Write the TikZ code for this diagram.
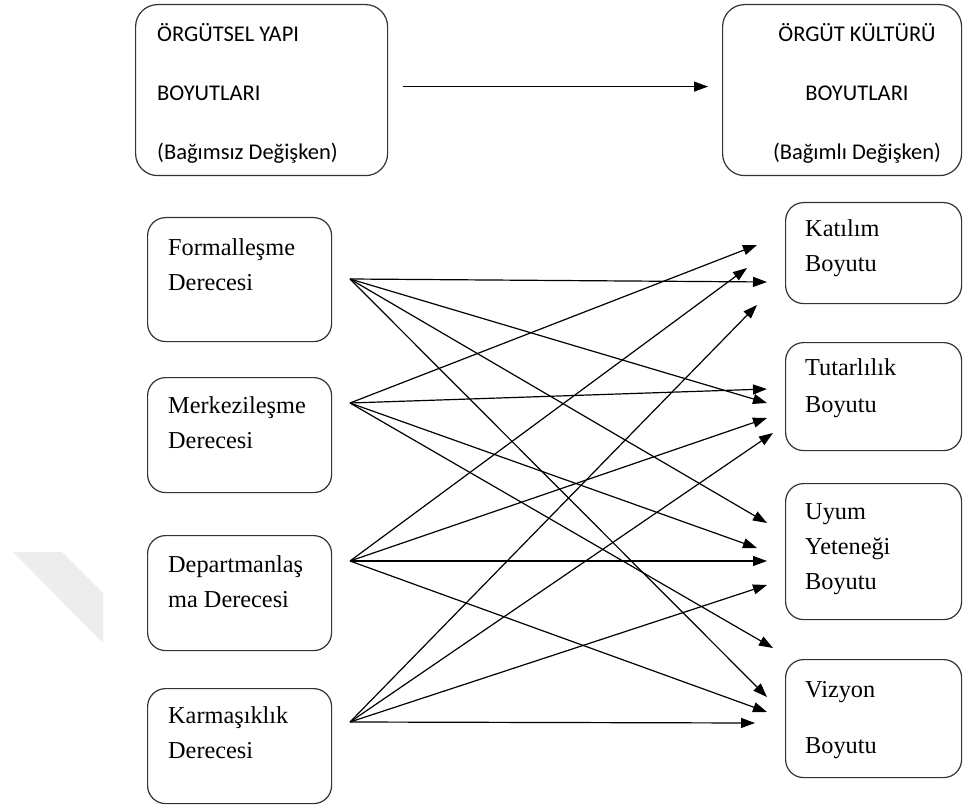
\documentclass[tikz,border=0pt]{standalone}
\usepackage{fontspec}
\setmainfont{Liberation Serif}
\newfontfamily\calibri{Carlito}
\usetikzlibrary{positioning}
\usetikzlibrary{arrows.meta}

\begin{document}
\begin{tikzpicture}[x=1pt,y=-1pt,
		kutu/.style={draw=black!80, line width=1.2pt, rounded corners=18pt, anchor=north west},
		yazi/.style={anchor=base west, align=left, inner sep=0pt, font=\fontsize{24.3}{35}\selectfont},
		baslik/.style={inner sep=0pt, font=\calibri\fontsize{22.5}{59}\selectfont},
		ok/.style={-{Triangle[length=14pt,width=10pt]}, line width=1.2pt}]
		\useasboundingbox (0,0) rectangle (963,810);
		% Watermark
		\fill[black!7] (13,552) -- (62,552) -- (103,593) -- (103,643) -- cycle;
		% Top boxes
		\node[kutu, rounded corners=22pt, minimum width=252pt, minimum height=171pt] (yapi) at (135,4) {};
		\node[kutu, rounded corners=22pt, minimum width=239pt, minimum height=171pt] (kultur) at (722,4) {};
		\node[baslik, anchor=base west, align=left] (yapiT) at (157,160) {ÖRGÜTSEL YAPI\\BOYUTLARI\\(Bağımsız Değişken)};
		\node[baslik, anchor=base, align=center] (kulturT) at (857,160) {ÖRGÜT KÜLTÜRÜ\\BOYUTLARI\\(Bağımlı Değişken)};
		\draw[ok] ([xshift=15pt,yshift=3.5pt]yapi.east) -- ([xshift=-14pt,yshift=3.5pt]kultur.west);
		% Independent variables
		\node[kutu, minimum width=184pt, minimum height=124pt] (form) at (147,217) {};
		\node[kutu, minimum width=184pt, minimum height=115pt] (merk) at (147,377) {};
		\node[kutu, minimum width=184pt, minimum height=115pt] (dept) at (147,535) {};
		\node[kutu, minimum width=184pt, minimum height=115pt] (karm) at (147,688) {};
		\node[yazi] (formT) at (168,290) {Formalleşme\\Derecesi};
		\node[yazi] (merkT) at (168,448) {Merkezileşme\\Derecesi};
		\node[yazi] (deptT) at (168,607) {Departmanlaş\\ma Derecesi};
		\node[yazi] (karmT) at (168,758) {Karmaşıklık\\Derecesi};
		% Dependent variables
		\node[kutu, minimum width=176pt, minimum height=101pt] (kat) at (785,202) {};
		\node[kutu, minimum width=176pt, minimum height=108pt] (tut) at (785,342) {};
		\node[kutu, minimum width=176pt, minimum height=136pt] (uyum) at (785,483) {};
		\node[kutu, minimum width=176pt, minimum height=118pt] (viz) at (785,659) {};
		\node[yazi] (katT) at (805,272) {Katılım\\Boyutu};
		\node[yazi] (tutT) at (805,412) {Tutarlılık\\[2pt]Boyutu};
		\node[yazi] (uyumT) at (805,589) {Uyum\\Yeteneği\\Boyutu};
		\node[yazi] (vizT) at (805,753) {Vizyon\\[21pt]Boyutu};
		% Arrow ends
		\coordinate (f) at (350,279);
		\coordinate (m) at (350,403);
		\coordinate (d) at (350,561);
		\coordinate (k) at (350,722);
		\coordinate (ka1) at (757,245);
		\coordinate (ka2) at (747,268);
		\coordinate (ka3) at (767,282);
		\coordinate (ka4) at (757,305);
		\coordinate (tu1) at (767,389);
		\coordinate (tu2) at (767,403);
		\coordinate (tu3) at (767,418);
		\coordinate (tu4) at (773,433);
		\coordinate (uy1) at (767,523);
		\coordinate (uy2) at (757,548);
		\coordinate (uy3) at (767,561);
		\coordinate (uy4) at (767,585);
		\coordinate (vi1) at (773,648);
		\coordinate (vi2) at (767,697);
		\coordinate (vi3) at (767,712);
		\coordinate (vi4) at (755,723);
		% Draw arrows
		\foreach \s/\t in {f/ka3, f/tu2, f/uy1, f/vi2,
				m/ka1, m/tu1, m/uy2, m/vi1,
				d/ka2, d/tu3, d/uy3, d/vi3,
				k/ka4, k/tu4, k/uy4, k/vi4}
			\draw[ok] (\s) -- (\t);
	\end{tikzpicture}
\end{document}
